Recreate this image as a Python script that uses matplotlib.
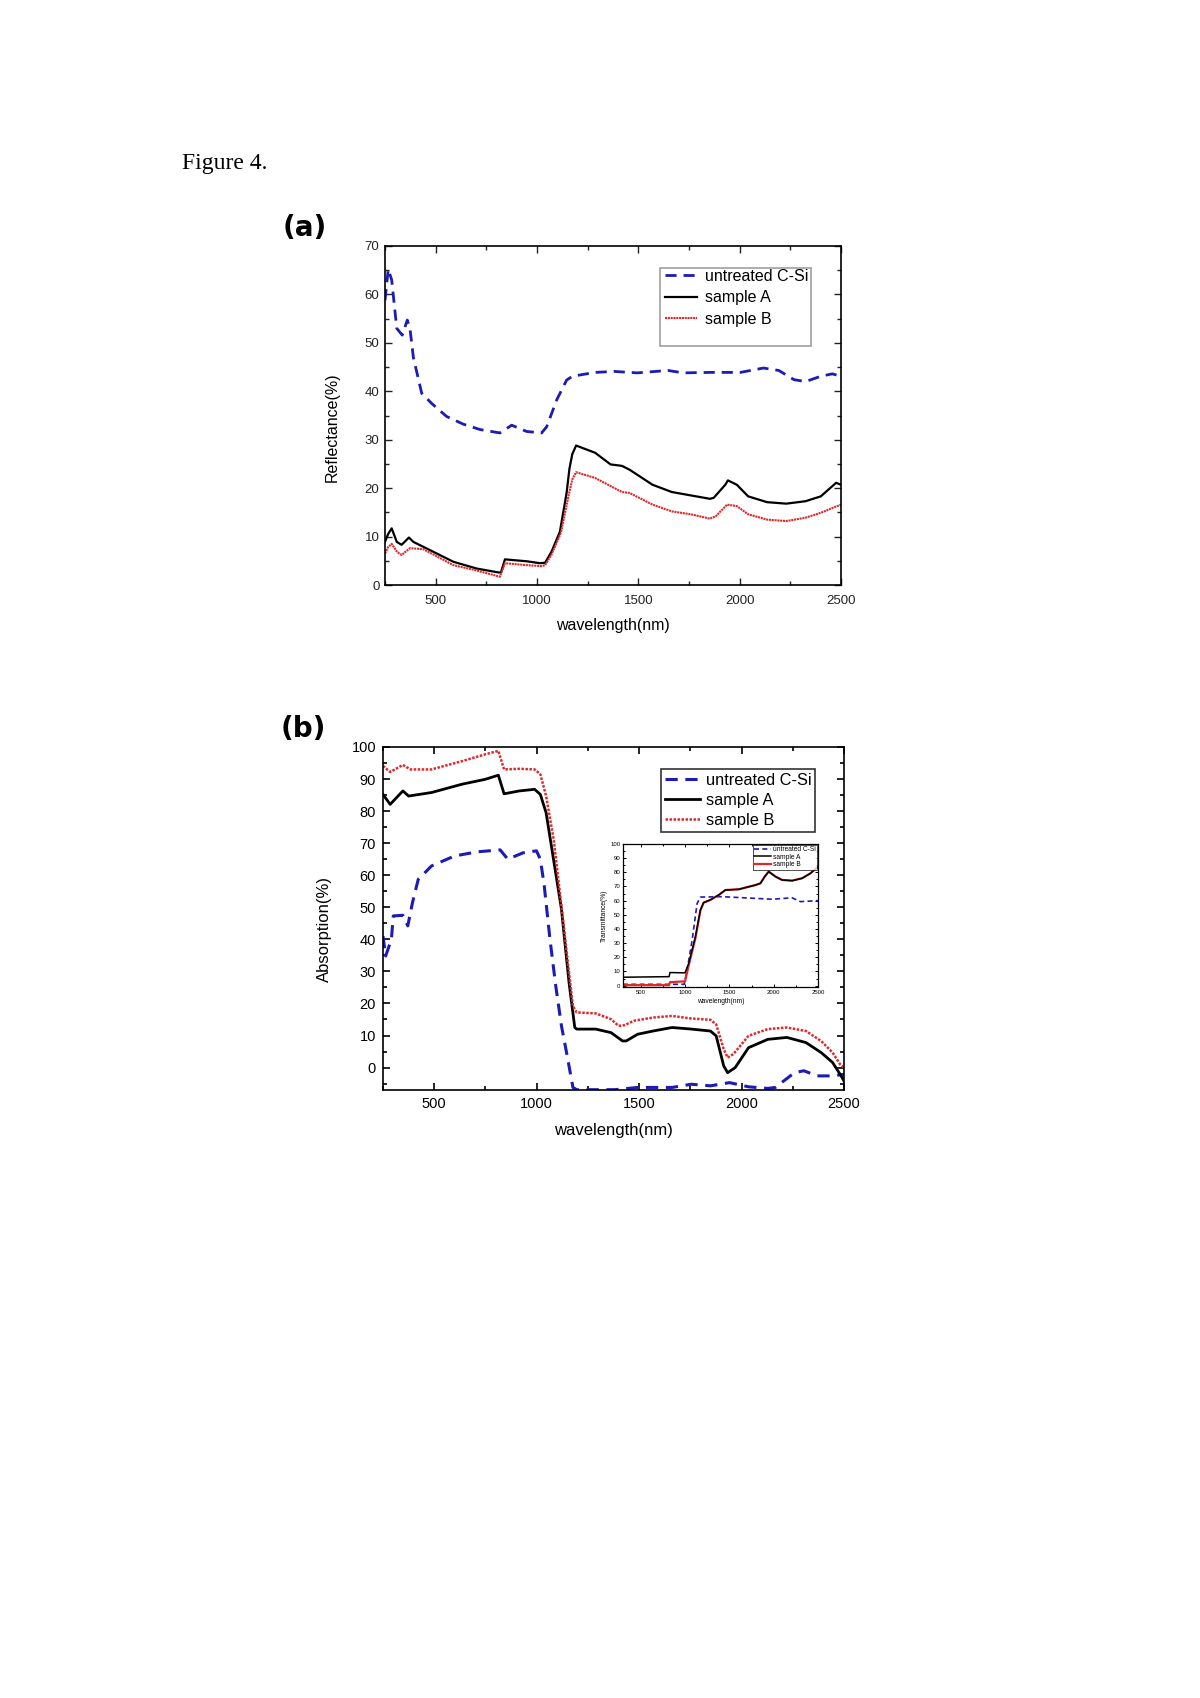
import matplotlib
matplotlib.use('Agg')
import matplotlib.pyplot as plt
from matplotlib.ticker import MultipleLocator
from matplotlib.patches import Rectangle

# Panel (a) reflectance
a_x_untreated = [250, 266, 283, 308, 335, 360, 373, 390, 431, 480, 554, 637, 719, 817, 875, 949,
                 1023, 1048, 1097, 1146, 1174, 1287, 1382, 1495, 1646, 1721, 1853, 2004, 2117,
                 2193, 2268, 2325, 2400, 2457, 2500]
a_y_untreated = [58.8, 65.2, 63.0, 53.0, 51.6, 54.7, 53.0, 47.0, 39.6, 37.5, 34.8, 33.2, 32.1, 31.4,
                 33.0, 31.7, 31.4, 32.7, 38.2, 42.3, 43.1, 43.9, 44.1, 43.8, 44.3, 43.8, 43.9, 43.9,
                 44.8, 44.3, 42.4, 42.0, 43.1, 43.6, 43.1]

a_x_A = [250, 265, 283, 308, 332, 368, 390, 472, 587, 702, 809, 822, 842, 867, 949, 1015, 1040,
         1072, 1113, 1146, 1160, 1174, 1193, 1287, 1363, 1419, 1457, 1570, 1665, 1759, 1853, 1872,
         1929, 1942, 1986, 2042, 2136, 2230, 2325, 2400, 2457, 2476, 2500]
a_y_A = [8.9, 10.5, 11.7, 8.9, 8.3, 9.8, 8.9, 7.2, 4.8, 3.4, 2.6, 2.6, 5.3, 5.2, 4.9, 4.5, 4.6,
         6.9, 11.0, 19.0, 24.0, 27.0, 28.8, 27.3, 24.9, 24.6, 23.8, 20.7, 19.2, 18.5, 17.8, 18.0,
         20.7, 21.6, 20.7, 18.3, 17.1, 16.8, 17.3, 18.3, 20.4, 21.1, 20.7]

a_x_B = [250, 265, 283, 310, 332, 373, 439, 587, 702, 817, 842, 949, 1023, 1040, 1072, 1118, 1155,
         1174, 1193, 1287, 1419, 1457, 1570, 1665, 1759, 1853, 1882, 1938, 1986, 2042, 2136, 2230,
         2325, 2400, 2457, 2500]
a_y_B = [6.5, 7.8, 8.5, 6.8, 6.2, 7.6, 7.4, 4.1, 3.0, 1.7, 4.5, 4.1, 3.9, 4.1, 6.3, 10.8, 18.3,
         21.8, 23.3, 22.1, 19.2, 19.0, 16.6, 15.2, 14.6, 13.7, 14.2, 16.6, 16.3, 14.6, 13.5, 13.2,
         13.9, 14.9, 15.9, 16.6]

# Panel (b) absorption
b_x_untreated = [250, 263, 291, 300, 347, 371, 394, 422, 487, 599, 710, 822, 859, 934, 999, 1018,
                 1037, 1065, 1093, 1121, 1149, 1177, 1195, 1382, 1493, 1661, 1755, 1848, 1941,
                 2034, 2128, 2165, 2258, 2304, 2370, 2444, 2500]
b_y_untreated = [41, 34.8, 40, 47.3, 47.5, 44.2, 51.5, 58.7, 62.9, 66.0, 67.3, 67.9, 65.0, 67.0,
                 67.6, 65.0, 56.7, 40.0, 25.5, 13.0, 3.6, -6.2, -6.9, -6.9, -6.2, -6.2, -5.2, -5.7,
                 -4.7, -6.0, -6.5, -6.2, -1.6, -1.0, -2.6, -2.6, -2.1]

b_x_A = [250, 285, 347, 375, 487, 636, 748, 813, 841, 916, 990, 1018, 1046, 1121, 1158, 1186, 1195,
         1288, 1363, 1419, 1437, 1493, 1568, 1661, 1755, 1848, 1876, 1913, 1932, 1969, 2034, 2128,
         2221, 2314, 2388, 2444, 2481, 2500]
b_y_A = [85.2, 82.1, 86.3, 84.7, 85.8, 88.4, 89.9, 91.2, 85.4, 86.3, 86.8, 85.2, 79.5, 49.4, 26.5,
         12.5, 12.0, 12.0, 10.9, 8.3, 8.3, 10.4, 11.4, 12.5, 12.0, 11.4, 9.9, 0.5, -1.6, 0.0, 6.2,
         8.8, 9.4, 7.8, 4.7, 1.6, -2.1, -4.2]

b_x_B = [250, 285, 347, 384, 487, 636, 748, 813, 841, 916, 990, 1018, 1046, 1083, 1121, 1158, 1177,
         1195, 1288, 1363, 1400, 1428, 1475, 1568, 1661, 1755, 1848, 1876, 1913, 1932, 1960, 2034,
         2128, 2221, 2314, 2388, 2444, 2481, 2500]
b_y_B = [94.1, 92.2, 94.4, 93.0, 93.0, 95.6, 97.7, 98.8, 93.0, 93.2, 93.0, 91.5, 84.7, 71.2, 50.4,
         29.6, 19.2, 17.2, 16.9, 15.1, 13.0, 13.2, 14.6, 15.6, 16.1, 15.3, 14.9, 13.5, 5.7, 3.1,
         4.2, 9.9, 12.0, 12.5, 11.4, 8.3, 4.7, 1.0, 0.0]

# Inset transmittance
ins_x_untreated = [300, 990, 1023, 1080, 1136, 1173, 1419, 1794, 1982, 2208, 2302, 2500]
ins_y_untreated = [0.9, 0.9, 11, 32, 58, 62.5, 62.8, 61.6, 61, 62, 59.3, 60]
ins_x_A = [300, 820, 830, 1000, 1042, 1117, 1173, 1210, 1285, 1380, 1455, 1606, 1794, 1850, 1899,
           1944, 2020, 2095, 2208, 2321, 2415, 2500]
ins_y_A = [5.9, 6.3, 9.2, 9.0, 15.8, 34.6, 53.4, 58.6, 60.5, 64, 67.5, 68, 71, 72.2, 77, 80.5, 77,
           74.6, 74.1, 75.8, 79.3, 84]
ins_x_B = [300, 820, 830, 1000, 1042, 1117, 1173, 1210, 1285, 1380, 1455, 1606, 1794, 1850, 1899,
           1944, 2020, 2095, 2208, 2321, 2415, 2500]
ins_y_B = [0.3, 0.3, 2.4, 3.0, 14.5, 33.5, 53.0, 58.6, 60.5, 64, 67.5, 68, 71, 72.2, 77, 80.5, 77,
           74.6, 74.1, 75.8, 79.3, 84]

labels = ['untreated C-Si', 'sample A', 'sample B']

BLUE = '#1c1cb4'
RED = '#e0282a'

W, H = 1200, 1698
plt.rcParams['font.family'] = ['Liberation Sans', 'DejaVu Sans']
fig = plt.figure(figsize=(W / 100, H / 100), dpi=100)


def px_axes(l, t, r, b):
    return fig.add_axes([l / W, 1 - b / H, (r - l) / W, (b - t) / H])


def style(ax, size, major=5, minor=3, width=1.0, pad=4):
    ax.tick_params(which='both', direction='in', top=True, right=True, width=width,
                   labelsize=size, pad=pad)
    ax.tick_params(which='major', length=major)
    ax.tick_params(which='minor', length=minor)
    ax.xaxis.set_major_locator(MultipleLocator(500))
    ax.xaxis.set_minor_locator(MultipleLocator(250))
    for s in ax.spines.values():
        s.set_linewidth(1.2)


fig.text(182 / W, 1 - 169 / H, 'Figure 4.', family='Liberation Serif', fontsize=17,
         va='baseline', ha='left')

# (a)
ax1 = px_axes(385, 246, 841, 585)
ax1.plot(a_x_untreated, a_y_untreated, color=BLUE, lw=2, dashes=(4, 2.5), label=labels[0])
ax1.plot(a_x_A, a_y_A, color='black', lw=1.6, label=labels[1])
ax1.plot(a_x_B, a_y_B, color=RED, lw=1.5, linestyle=(0, (1, 0.35)), label=labels[2])
ax1.set_xlim(250, 2500)
ax1.set_ylim(0, 70)
ax1.yaxis.set_major_locator(MultipleLocator(10))
ax1.yaxis.set_minor_locator(MultipleLocator(5))
style(ax1, 9.5)
ax1.tick_params(axis='x', pad=7)
ax1.tick_params(colors='#222222', which='both')
ax1.set_xlabel('wavelength(nm)', fontsize=11.5, labelpad=8)
ax1.set_ylabel('Reflectance(%)', fontsize=11.5)
ax1.yaxis.set_label_coords(-0.099, 0.466)
leg1 = ax1.legend(loc='upper left', bbox_to_anchor=(665 / W, 1 - 269 / H),
                  bbox_transform=fig.transFigure, fontsize=11.5, frameon=False,
                  handlelength=2.0, handletextpad=0.5, borderpad=0, borderaxespad=0,
                  labelspacing=0.4)
fig.patches.append(Rectangle((660 / W, 1 - 346 / H), 151 / W, 78 / H, transform=fig.transFigure,
                             fill=False, edgecolor='#a0a0a0', linewidth=1.2))
fig.text(305 / W, 1 - 228 / H, '(a)', fontsize=20, fontweight='bold', family='DejaVu Sans',
         ha='center', va='center')

# (b)
ax2 = px_axes(383, 747, 844, 1090)
ax2.plot(b_x_untreated, b_y_untreated, color=BLUE, lw=2.2, dashes=(4, 2.5), label=labels[0])
ax2.plot(b_x_A, b_y_A, color='black', lw=2, label=labels[1])
ax2.plot(b_x_B, b_y_B, color=RED, lw=1.8, linestyle=(0, (1, 0.6)), label=labels[2])
ax2.set_xlim(250, 2500)
ax2.set_ylim(-7, 100)
ax2.yaxis.set_major_locator(MultipleLocator(10))
ax2.yaxis.set_minor_locator(MultipleLocator(5))
style(ax2, 10.5, width=1.2, pad=5)
ax2.set_xlabel('wavelength(nm)', fontsize=12, labelpad=9)
ax2.set_ylabel('Absorption(%)', fontsize=12)
ax2.yaxis.set_label_coords(-0.111, 0.469)
leg2 = ax2.legend(loc='upper left', bbox_to_anchor=((661 - 383) / 461, (1090 - 769) / 343),
                  fontsize=11.8, frameon=True, fancybox=False, handlelength=2.15,
                  handletextpad=0.35, borderpad=0.22, borderaxespad=0, labelspacing=0.32)
leg2.get_frame().set_edgecolor('black')
leg2.get_frame().set_linewidth(1.2)
fig.text(303 / W, 1 - 729 / H, '(b)', fontsize=20, fontweight='bold', family='DejaVu Sans',
         ha='center', va='center')

# inset
ax3 = px_axes(623, 844, 818, 987)
ax3.plot(ins_x_untreated, ins_y_untreated, color=BLUE, lw=1.2, dashes=(3, 2), label=labels[0])
ax3.plot(ins_x_B, ins_y_B, color=RED, lw=1.6, label=labels[2])
ax3.plot(ins_x_A, ins_y_A, color='black', lw=1.1, label=labels[1])
ax3.set_xlim(300, 2500)
ax3.set_ylim(-1, 100)
ax3.yaxis.set_major_locator(MultipleLocator(10))
ax3.yaxis.set_minor_locator(MultipleLocator(5))
style(ax3, 4.3, major=2.5, minor=1.5, width=0.7, pad=2)
for s in ax3.spines.values():
    s.set_linewidth(0.9)
ax3.set_xlabel('wavelength(nm)', fontsize=4.8, labelpad=2)
ax3.set_ylabel('Transmittance(%)', fontsize=4.8, labelpad=2)
h, l = ax3.get_legend_handles_labels()
leg3 = ax3.legend([h[0], h[2], h[1]], [l[0], l[2], l[1]], loc='upper right', fontsize=4.8,
                  frameon=True, fancybox=False, handlelength=2.5, handletextpad=0.4,
                  borderpad=0.2, labelspacing=0.1, borderaxespad=0.1)
leg3.get_frame().set_edgecolor('black')
leg3.get_frame().set_linewidth(0.6)

fig.savefig('out.png', dpi=100, facecolor='white')
